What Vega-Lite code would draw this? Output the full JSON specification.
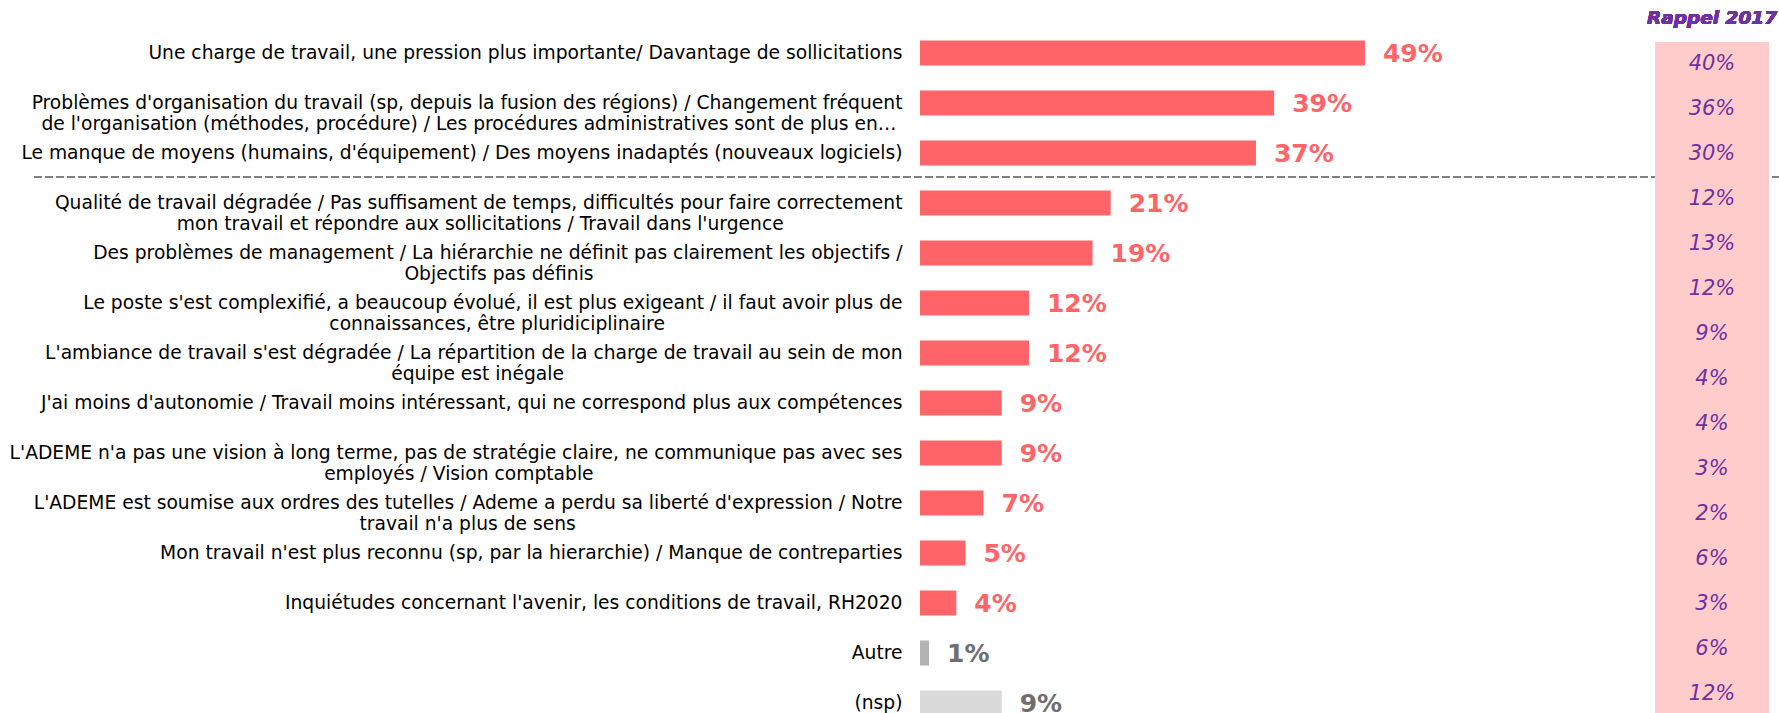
{
  "$schema": "https://vega.github.io/schema/vega-lite/v6.json",
  "width": 859,
  "height": 685,
  "autosize": {"type": "none"},
  "padding": {"left": 920, "top": 28, "right": 0, "bottom": 0},
  "background": "white",
  "config": {"view": {"stroke": null}, "font": "DejaVu Sans"},
  "layer": [
    {
      "data": {"values": [
        {"label": "Une charge de travail, une pression plus importante/ Davantage de sollicitations", "pct": 0.49, "type": "item"},
        {"label": "Problèmes d'organisation du travail (sp, depuis la fusion des régions) / Changement fréquent\nde l'organisation (méthodes, procédure) / Les procédures administratives sont de plus en…\u00a0\u2060", "pct": 0.39, "type": "item"},
        {"label": "Le manque de moyens (humains, d'équipement) / Des moyens inadaptés (nouveaux logiciels)", "pct": 0.37, "type": "item"},
        {"label": "Qualité de travail dégradée / Pas suffisament de temps, difficultés pour faire correctement\nmon travail et répondre aux sollicitations / Travail dans l'urgence\u00a0\u00a0\u00a0\u00a0\u00a0\u00a0\u00a0\u00a0\u00a0\u00a0\u00a0\u00a0\u00a0\u00a0\u00a0\u00a0\u00a0\u00a0\u00a0\u00a0\u2060", "pct": 0.21, "type": "item"},
        {"label": "Des problèmes de management / La hiérarchie ne définit pas clairement les objectifs /\nObjectifs pas définis\u00a0\u00a0\u00a0\u00a0\u00a0\u00a0\u00a0\u00a0\u00a0\u00a0\u00a0\u00a0\u00a0\u00a0\u00a0\u00a0\u00a0\u00a0\u00a0\u00a0\u00a0\u00a0\u00a0\u00a0\u00a0\u00a0\u00a0\u00a0\u00a0\u00a0\u00a0\u00a0\u00a0\u00a0\u00a0\u00a0\u00a0\u00a0\u00a0\u00a0\u00a0\u00a0\u00a0\u00a0\u00a0\u00a0\u00a0\u00a0\u00a0\u00a0\u00a0\u00a0\u2060", "pct": 0.19, "type": "item"},
        {"label": "Le poste s'est complexifié, a beaucoup évolué, il est plus exigeant / il faut avoir plus de\nconnaissances, être pluridiciplinaire\u00a0\u00a0\u00a0\u00a0\u00a0\u00a0\u00a0\u00a0\u00a0\u00a0\u00a0\u00a0\u00a0\u00a0\u00a0\u00a0\u00a0\u00a0\u00a0\u00a0\u00a0\u00a0\u00a0\u00a0\u00a0\u00a0\u00a0\u00a0\u00a0\u00a0\u00a0\u00a0\u00a0\u00a0\u00a0\u00a0\u00a0\u00a0\u00a0\u00a0\u2060", "pct": 0.12, "type": "item"},
        {"label": "L'ambiance de travail s'est dégradée / La répartition de la charge de travail au sein de mon\néquipe est inégale\u00a0\u00a0\u00a0\u00a0\u00a0\u00a0\u00a0\u00a0\u00a0\u00a0\u00a0\u00a0\u00a0\u00a0\u00a0\u00a0\u00a0\u00a0\u00a0\u00a0\u00a0\u00a0\u00a0\u00a0\u00a0\u00a0\u00a0\u00a0\u00a0\u00a0\u00a0\u00a0\u00a0\u00a0\u00a0\u00a0\u00a0\u00a0\u00a0\u00a0\u00a0\u00a0\u00a0\u00a0\u00a0\u00a0\u00a0\u00a0\u00a0\u00a0\u00a0\u00a0\u00a0\u00a0\u00a0\u00a0\u00a0\u2060", "pct": 0.12, "type": "item"},
        {"label": "J'ai moins d'autonomie / Travail moins intéressant, qui ne correspond plus aux compétences", "pct": 0.09, "type": "item"},
        {"label": "L'ADEME n'a pas une vision à long terme, pas de stratégie claire, ne communique pas avec ses\nemployés / Vision comptable\u00a0\u00a0\u00a0\u00a0\u00a0\u00a0\u00a0\u00a0\u00a0\u00a0\u00a0\u00a0\u00a0\u00a0\u00a0\u00a0\u00a0\u00a0\u00a0\u00a0\u00a0\u00a0\u00a0\u00a0\u00a0\u00a0\u00a0\u00a0\u00a0\u00a0\u00a0\u00a0\u00a0\u00a0\u00a0\u00a0\u00a0\u00a0\u00a0\u00a0\u00a0\u00a0\u00a0\u00a0\u00a0\u00a0\u00a0\u00a0\u00a0\u00a0\u00a0\u00a0\u2060", "pct": 0.09, "type": "item"},
        {"label": "L'ADEME est soumise aux ordres des tutelles / Ademe a perdu sa liberté d'expression / Notre\ntravail n'a plus de sens\u00a0\u00a0\u00a0\u00a0\u00a0\u00a0\u00a0\u00a0\u00a0\u00a0\u00a0\u00a0\u00a0\u00a0\u00a0\u00a0\u00a0\u00a0\u00a0\u00a0\u00a0\u00a0\u00a0\u00a0\u00a0\u00a0\u00a0\u00a0\u00a0\u00a0\u00a0\u00a0\u00a0\u00a0\u00a0\u00a0\u00a0\u00a0\u00a0\u00a0\u00a0\u00a0\u00a0\u00a0\u00a0\u00a0\u00a0\u00a0\u00a0\u00a0\u00a0\u00a0\u00a0\u00a0\u00a0\u2060", "pct": 0.07, "type": "item"},
        {"label": "Mon travail n'est plus reconnu (sp, par la hierarchie) / Manque de contreparties", "pct": 0.05, "type": "item"},
        {"label": "Inquiétudes concernant l'avenir, les conditions de travail, RH2020", "pct": 0.04, "type": "item"},
        {"label": "Autre", "pct": 0.01, "type": "autre"},
        {"label": "(nsp)", "pct": 0.09, "type": "nsp"}
      ]},
      "encoding": {
        "y": {
          "field": "label", "type": "nominal", "sort": null,
          "scale": {"range": [0, 700], "paddingInner": 0.5, "paddingOuter": 0.25},
          "axis": {
            "title": null, "domain": false, "ticks": false, "tickSize": 0,
            "labelPadding": 18, "labelLimit": 0, "labelFont": "DejaVu Sans",
            "labelFontSize": 18.7, "labelColor": "#000000", "labelLineHeight": 21,
            "labelExpr": "split(datum.label, '\\n')"
          }
        },
        "x": {"field": "pct", "type": "quantitative", "scale": {"domain": [0, 0.946], "nice": false, "zero": true}, "axis": null}
      },
      "layer": [
        {
          "mark": {"type": "bar"},
          "encoding": {
            "color": {"field": "type", "type": "nominal", "legend": null,
              "scale": {"domain": ["item", "autre", "nsp"], "range": ["#FF6469", "#B3B3B3", "#D9D9D9"]}}
          }
        },
        {
          "mark": {"type": "text", "align": "left", "baseline": "middle", "dx": 18, "dy": 1, "font": "DejaVu Sans", "fontWeight": "bold", "fontSize": 25},
          "encoding": {
            "text": {"field": "pct", "type": "quantitative", "format": ".0%"},
            "fill": {"field": "type", "type": "nominal", "legend": null,
              "scale": {"domain": ["item", "autre", "nsp"], "range": ["#FF6469", "#6E6E6E", "#6E6E6E"]}}
          }
        }
      ]
    },
    {
      "data": {"values": [
        {"rang": 0, "pct2017": 0.40},
        {"rang": 1, "pct2017": 0.36},
        {"rang": 2, "pct2017": 0.30},
        {"rang": 3, "pct2017": 0.12},
        {"rang": 4, "pct2017": 0.13},
        {"rang": 5, "pct2017": 0.12},
        {"rang": 6, "pct2017": 0.09},
        {"rang": 7, "pct2017": 0.04},
        {"rang": 8, "pct2017": 0.04},
        {"rang": 9, "pct2017": 0.03},
        {"rang": 10, "pct2017": 0.02},
        {"rang": 11, "pct2017": 0.06},
        {"rang": 12, "pct2017": 0.03},
        {"rang": 13, "pct2017": 0.06},
        {"rang": 14, "pct2017": 0.12}
      ]},
      "layer": [
        {
          "mark": {"type": "rule", "color": "#808080", "strokeWidth": 1.5, "strokeDash": [7, 4]},
          "encoding": {
            "x": {"datum": -0.975, "type": "quantitative", "scale": {"domain": [0, 0.946], "nice": false}},
            "x2": {"datum": 0.946},
            "y": {"datum": 2.5, "type": "quantitative", "scale": {"domain": [-0.811, 14.745], "range": [0, 700], "nice": false, "zero": false}, "axis": null}
          }
        },
        {
          "mark": {"type": "rect", "color": "#FFCCCC"},
          "encoding": {
            "x": {"datum": 0.8095, "type": "quantitative"},
            "x2": {"datum": 0.935},
            "y": {"datum": -0.5, "type": "quantitative"},
            "y2": {"datum": 15.5}
          }
        },
        {
          "mark": {"type": "text", "align": "center", "baseline": "middle", "font": "DejaVu Sans", "fontStyle": "italic", "fontSize": 21, "color": "#7030A0"},
          "encoding": {
            "x": {"datum": 0.8722, "type": "quantitative"},
            "y": {"field": "rang", "type": "quantitative"},
            "text": {"field": "pct2017", "type": "quantitative", "format": ".0%"}
          }
        },
        {
          "mark": {"type": "text", "align": "center", "baseline": "middle", "font": "DejaVu Sans", "fontStyle": "italic", "fontWeight": "bold", "fontSize": 18.5, "color": "#7030A0"},
          "encoding": {
            "x": {"datum": 0.8722, "type": "quantitative"},
            "y": {"datum": -1.033, "type": "quantitative"},
            "text": {"value": "Rappel 2017"}
          }
        }
      ]
    }
  ],
  "resolve": {"scale": {"y": "independent", "x": "shared", "color": "independent", "fill": "independent"}}
}
